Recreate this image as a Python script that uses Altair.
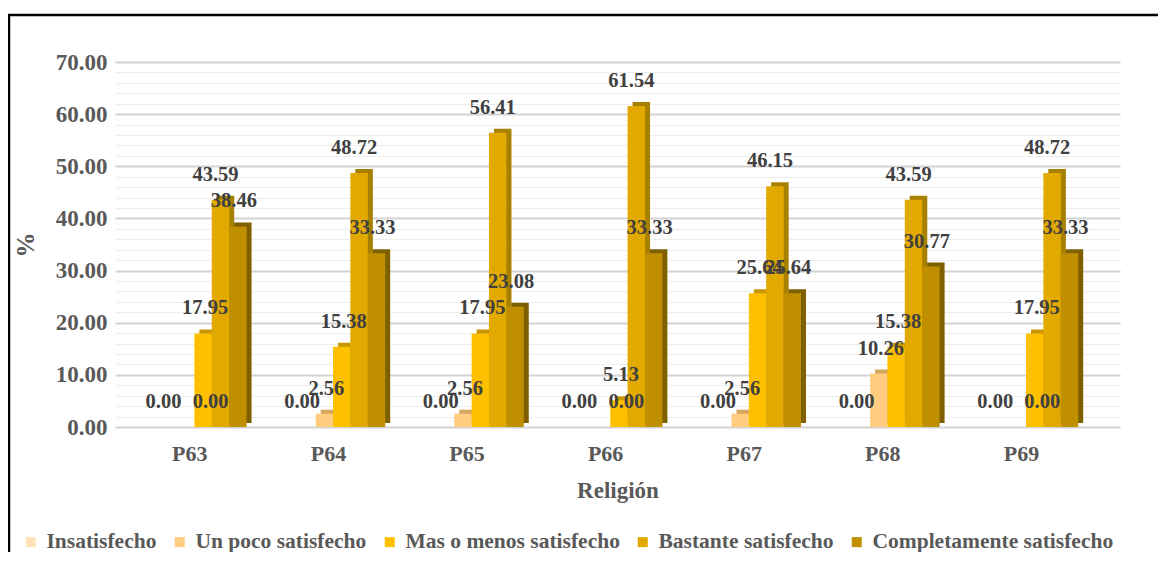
import altair as alt
import pandas as pd

groups = ["P63", "P64", "P65", "P66", "P67", "P68", "P69"]
series = ["Insatisfecho", "Un poco satisfecho", "Mas o menos satisfecho",
          "Bastante satisfecho", "Completamente satisfecho"]
insatisfecho = [0.00, 0.00, 0.00, 0.00, 0.00, 0.00, 0.00]
un_poco = [0.00, 2.56, 2.56, 0.00, 2.56, 10.26, 0.00]
mas_o_menos = [17.95, 15.38, 17.95, 5.13, 25.64, 15.38, 17.95]
bastante = [43.59, 48.72, 56.41, 61.54, 46.15, 43.59, 48.72]
completamente = [38.46, 33.33, 23.08, 33.33, 25.64, 30.77, 33.33]
y_ticks = [0, 10, 20, 30, 40, 50, 60, 70]

front_colors = ["#FFE2B8", "#FFCC80", "#FFC000", "#E2A900", "#BF8F00"]
side_colors = ["#D6B88E", "#D6A75E", "#C99700", "#A88000", "#7F6000"]

all_vals = [insatisfecho, un_poco, mas_o_menos, bastante, completamente]
rows = []
for si, (s, vals) in enumerate(zip(series, all_vals)):
    for gi, (g, v) in enumerate(zip(groups, vals)):
        rows.append({"group": g, "series": s, "value": v, "gi": gi, "si": si,
                     "side": side_colors[si]})
df = pd.DataFrame(rows)

FONT = "Liberation Serif"
TXT = "#595959"
STEP = 140.0

lab_expr = "[" + ",".join("'%s'" % g for g in groups) + "][datum.value]"

base = alt.Chart(df).transform_calculate(
    xpos="datum.gi + ((datum.si - 2) * 17.5 + 14) / %f" % STEP
).transform_calculate(
    labx="datum.xpos + ((datum.si == 1 && datum.value == 0) ? 25 : [-5, 2, 2, -5, -4][datum.si]) / %f" % STEP
)

xscale = alt.Scale(domain=[-0.5, 6.5 + 25 / STEP], nice=False, zero=False)
yscale = alt.Scale(domain=[0, 70], nice=False)

xaxis = alt.Axis(values=list(range(len(groups))), labelExpr=lab_expr,
                 title="Religión", grid=False, domain=False, ticks=False,
                 labelFont=FONT, labelFontSize=22, labelFontWeight="bold",
                 labelColor=TXT, labelPadding=16,
                 titleFont=FONT, titleFontSize=23, titleFontWeight="bold",
                 titleColor=TXT, titlePadding=15)
yaxis = alt.Axis(values=list(range(0, 71, 2)),
                 labelExpr="datum.value % 10 === 0 ? format(datum.value, '.2f') : ''",
                 title="%", domain=False, ticks=False, grid=True,
                 gridColor={"condition": {"test": "datum.value % 10 === 0", "value": "#D3D3D3"}, "value": "#EDEDED"},
                 gridWidth={"condition": {"test": "datum.value % 10 === 0", "value": 1.8}, "value": 1.2},
                 labelFont=FONT, labelFontSize=23, labelFontWeight="bold",
                 labelColor=TXT, labelPadding=8,
                 titleFont=FONT, titleFontSize=25, titleFontWeight="bold",
                 titleColor=TXT, titlePadding=17)

side = base.mark_bar(width=17.5, xOffset=5, yOffset=-4).encode(
    x=alt.X("xpos:Q", scale=xscale, axis=xaxis),
    y=alt.Y("value:Q", scale=yscale, axis=yaxis),
    color=alt.Color("side:N", scale=None),
)

front = base.mark_bar(width=17.5).encode(
    x=alt.X("xpos:Q", scale=xscale, axis=xaxis),
    y=alt.Y("value:Q", scale=yscale, axis=yaxis),
    color=alt.Color("series:N", scale=alt.Scale(domain=series, range=front_colors),
                    legend=alt.Legend(orient="none", legendX=-95, legendY=469,
                                      direction="horizontal", columns=5, title=None,
                                      symbolType="square", symbolSize=100,
                                      symbolStrokeWidth=0, labelFont=FONT,
                                      labelFontSize=21.5, labelFontWeight="bold",
                                      labelColor=TXT, columnPadding=12,
                                      labelOffset=5, labelLimit=400)),
)

labels = base.mark_text(font=FONT, fontSize=20.5, fontWeight="bold", color="#404040",
                        baseline="middle", align="center", dy=-25).encode(
    x=alt.X("labx:Q", scale=xscale, axis=xaxis),
    y=alt.Y("value:Q", scale=yscale, axis=yaxis),
    text=alt.Text("value:Q", format=".2f"),
)

frame = alt.Chart(alt.Data(values=[{}])).mark_rect(
    fill=None, stroke="black", strokeWidth=2.5).encode(
    x=alt.value(-106), x2=alt.value(1300), y=alt.value(-47), y2=alt.value(800))

chart = alt.layer(side, front, labels, frame).properties(
    width=1005, height=365,
    background="white",
    autosize=alt.AutoSizeParams(type="none"),
    padding={"left": 107, "top": 54, "right": 38, "bottom": 125},
).configure_view(stroke=None)

chart.save("out.html", embed_options={"renderer": "svg", "actions": False})
